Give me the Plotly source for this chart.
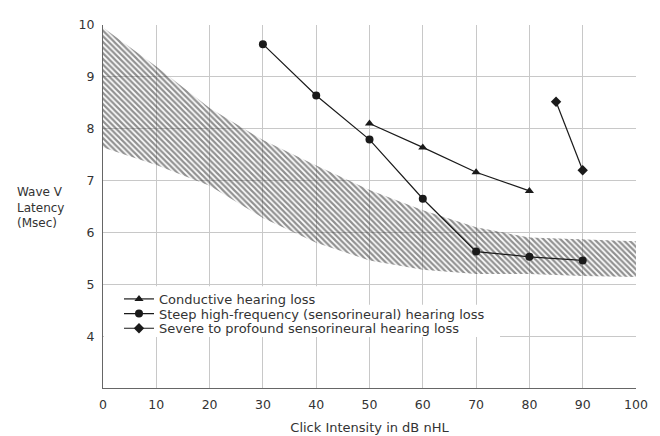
import plotly.graph_objects as go

# Data
x_ticks = [0, 10, 20, 30, 40, 50, 60, 70, 80, 90, 100]
y_ticks = [4, 5, 6, 7, 8, 9, 10]

band_x = [0, 10, 20, 30, 40, 50, 60, 70, 80, 90, 100]
band_upper = [9.95, 9.2, 8.4, 7.78, 7.29, 6.82, 6.43, 6.1, 5.9, 5.87, 5.83]
band_lower = [7.64, 7.3, 6.9, 6.28, 5.8, 5.46, 5.28, 5.2, 5.2, 5.16, 5.14]

cond_x = [50, 60, 70, 80]
cond_y = [8.1, 7.64, 7.16, 6.8]

steep_x = [30, 40, 50, 60, 70, 80, 90]
steep_y = [9.63, 8.64, 7.79, 6.65, 5.63, 5.53, 5.46]

severe_x = [85, 90]
severe_y = [8.52, 7.2]

names = ["Conductive hearing loss",
         "Steep high-frequency (sensorineural) hearing loss",
         "Severe to profound sensorineural hearing loss"]
ylabel_lines = ["Wave V", "Latency", "(Msec)"]

FONT = "DejaVu Sans, Verdana, sans-serif"
TXT = "#333333"

# page offset (body margin) and plot-area pixel geometry
OFF = 8
PX_L, PX_R, PX_T, PX_B = 103, 636, 17, 388


def px_to_paper_x(px):
    return (px - PX_L) / (PX_R - PX_L)


def px_to_paper_y(py):
    return (PX_B - py) / (PX_B - PX_T)


fig = go.Figure()

fig.add_trace(go.Scatter(
    x=band_x + band_x[::-1],
    y=band_upper + band_lower[::-1],
    fill="toself",
    mode="lines",
    line=dict(width=0, color="rgba(0,0,0,0)"),
    fillcolor="rgba(255,255,255,0)",
    fillpattern=dict(shape="\\", fgcolor="#222222", bgcolor="rgba(255,255,255,0)",
                     size=4, solidity=0.55),
    showlegend=False, hoverinfo="skip"))

legend_ids = ["legend", "legend2", "legend3"]
for xs, ys, sym, nm, lg in [(cond_x, cond_y, "triangle-up", names[0], legend_ids[0]),
                            (steep_x, steep_y, "circle", names[1], legend_ids[1]),
                            (severe_x, severe_y, "diamond", names[2], legend_ids[2])]:
    fig.add_trace(go.Scatter(
        x=xs, y=ys, mode="lines+markers", name=nm, legend=lg,
        line=dict(color="#1a1a1a", width=1.2),
        marker=dict(symbol=sym, size=8, color="#1a1a1a")))

# white background behind the legend text (covers grid lines)
for (x0, x1, y0, y1) in [(104, 340, 284, 336), (104, 500, 303, 336)]:
    fig.add_shape(type="rect", xref="paper", yref="paper", layer="above",
                  x0=px_to_paper_x(x0), x1=px_to_paper_x(x1),
                  y0=px_to_paper_y(y1), y1=px_to_paper_y(y0),
                  line=dict(width=0), fillcolor="white")

# y-axis label (three lines)
fig.add_annotation(text="<br>".join(ylabel_lines), xref="paper", yref="paper",
                   x=px_to_paper_x(15), y=px_to_paper_y(204),
                   xanchor="left", yanchor="middle", align="left",
                   showarrow=False,
                   font=dict(family=FONT, size=12, color=TXT))

leg_common = dict(xanchor="left", yanchor="middle", bgcolor="rgba(0,0,0,0)", borderwidth=0,
                  font=dict(family=FONT, size=13, color=TXT), itemwidth=30)
layout_legends = {}
for i, lg in enumerate(legend_ids):
    py = 297 + 15 * i
    layout_legends[lg] = dict(x=px_to_paper_x(119), y=px_to_paper_y(py), **leg_common)

fig.update_layout(
    width=660, height=436,
    margin=dict(l=PX_L - OFF, r=660 - PX_R + OFF, t=PX_T - OFF, b=436 - PX_B + OFF),
    paper_bgcolor="white", plot_bgcolor="white",
    font=dict(family=FONT, size=13, color=TXT),
    xaxis=dict(range=[0, 100], tickvals=x_ticks, ticktext=[str(v) for v in x_ticks],
               showgrid=True, gridcolor="#c8c8c8", gridwidth=1,
               showline=True, linecolor="#666666", linewidth=1,
               zeroline=False, ticks="outside", ticklen=5, tickcolor="rgba(0,0,0,0)",
               tickfont=dict(family=FONT, size=12.5, color=TXT),
               title=dict(text="Click Intensity in dB nHL", standoff=11,
                          font=dict(family=FONT, size=13, color=TXT))),
    yaxis=dict(range=[3, 10], tickvals=y_ticks, ticktext=[str(v) for v in y_ticks],
               showgrid=True, gridcolor="#c8c8c8", gridwidth=1,
               showline=True, linecolor="#666666", linewidth=1,
               zeroline=False, ticks="outside", ticklen=5, tickcolor="rgba(0,0,0,0)",
               tickfont=dict(family=FONT, size=12.5, color=TXT)),
    **layout_legends,
)

fig.write_html("out.html")
